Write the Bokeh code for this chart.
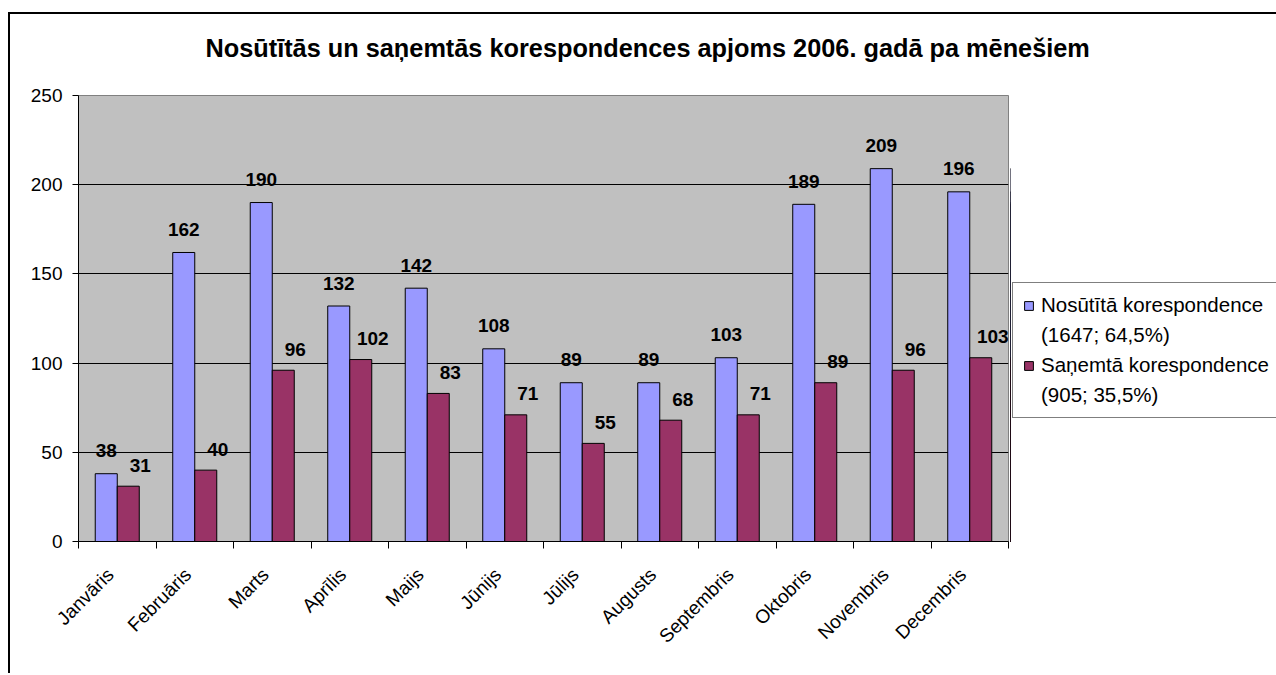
import numpy as np
from bokeh.plotting import figure
from bokeh.layouts import row, column
from bokeh.models import (ColumnDataSource, FixedTicker, LabelSet, Legend, LegendItem, Range1d)
from bokeh.transform import dodge
from bokeh.core.properties import value
from bokeh.embed import file_html
from bokeh.resources import INLINE

months = ["Janvāris", "Februāris", "Marts", "Aprīlis", "Maijs", "Jūnijs", "Jūlijs",
          "Augusts", "Septembris", "Oktobris", "Novembris", "Decembris"]
sent = [38, 162, 190, 132, 142, 108, 89, 89, 103, 189, 209, 196]
received = [31, 40, 96, 102, 83, 71, 55, 68, 71, 89, 96, 103]
sent_label = ["Nosūtītā korespondence", "(1647; 64,5%)"]
received_label = ["Saņemtā korespondence", "(905; 35,5%)"]
title_text = "Nosūtītās un saņemtās korespondences apjoms 2006. gadā pa mēnešiem"
y_ticks = [0, 50, 100, 150, 200, 250]
sent_color = "#9999FF"
received_color = "#993366"

FONT = "Liberation Sans"
n = len(months)
x_pos = [i + 0.5 for i in range(n)]
label_pos = [x - 0.09 for x in x_pos]
boundaries = list(range(n + 1))

src = ColumnDataSource(dict(
    x=x_pos, sent=sent, received=received,
    sent_txt=[str(v) for v in sent], rec_txt=[str(v) for v in received],
))

# ---------------- title strip ----------------
pt = figure(width=1266, height=71, x_range=Range1d(0, 1), y_range=Range1d(0, 1),
            output_backend="svg", toolbar_location=None,
            x_axis_location=None, y_axis_location=None,
            min_border_left=68, min_border_right=268, min_border_top=0, min_border_bottom=0)
pt.grid.visible = False
pt.outline_line_color = None
pt.background_fill_color = "white"
pt.border_fill_color = "white"
pt.title.text = title_text
pt.title.align = "left"
pt.title.offset = 127
pt.title.standoff = 34
pt.title.text_font = FONT
pt.title.text_font_size = "25.3px"
pt.title.text_font_style = "bold"
pt.title.text_color = "black"

# ---------------- main chart ----------------
p = figure(width=1000, height=588, x_range=Range1d(0, n), y_range=Range1d(0, 250),
           output_backend="svg", toolbar_location=None,
           min_border_left=68, min_border_right=2, min_border_top=10, min_border_bottom=132)
p.title.text = ""
p.title.standoff = 0
p.background_fill_color = "#C0C0C0"
p.border_fill_color = "white"
p.outline_line_color = "#808080"
p.outline_line_width = 1

p.xgrid.visible = False
p.ygrid.ticker = FixedTicker(ticks=[50, 100, 150, 200])
p.ygrid.grid_line_color = "black"
p.ygrid.grid_line_width = 1

p.yaxis.ticker = FixedTicker(ticks=y_ticks)
p.yaxis.major_tick_out = 6
p.yaxis.major_tick_in = 0
p.yaxis.minor_tick_line_color = None
p.yaxis.axis_line_color = "black"
p.yaxis.major_tick_line_color = "black"
p.yaxis.major_label_standoff = 10
p.yaxis.major_label_text_font = FONT
p.yaxis.major_label_text_font_size = "19px"
p.yaxis.major_label_text_color = "black"

p.xaxis.ticker = FixedTicker(ticks=label_pos, minor_ticks=boundaries)
p.xaxis.major_label_overrides = {x: m for x, m in zip(label_pos, months)}
p.xaxis.major_tick_out = 0
p.xaxis.major_tick_in = 0
p.xaxis.minor_tick_out = 7
p.xaxis.minor_tick_in = 0
p.xaxis.minor_tick_line_color = "black"
p.xaxis.axis_line_color = "black"
p.xaxis.major_label_orientation = np.pi / 4
p.xaxis.major_label_standoff = 23
p.xaxis.major_label_text_font = FONT
p.xaxis.major_label_text_font_size = "19px"
p.xaxis.major_label_text_color = "black"

p.vbar(x=dodge("x", -0.142, range=p.x_range), top="sent", width=0.284, source=src,
       fill_color=sent_color, line_color="black", line_width=1)
p.vbar(x=dodge("x", 0.142, range=p.x_range), top="received", width=0.284, source=src,
       fill_color=received_color, line_color="black", line_width=1)

lab1 = LabelSet(x=dodge("x", -0.142, range=p.x_range), y="sent", text="sent_txt", source=src,
                text_align="center", text_baseline="middle", y_offset=23,
                text_font=value(FONT), text_font_style="bold", text_font_size="19px",
                text_color="black")
lab2 = LabelSet(x=dodge("x", 0.142, range=p.x_range), y="received", text="rec_txt", source=src,
                text_align="center", text_baseline="middle", y_offset=21, x_offset=12,
                text_font=value(FONT), text_font_style="bold", text_font_size="19px",
                text_color="black")
p.add_layout(lab1)
p.add_layout(lab2)

# ---------------- legend panel ----------------
p2 = figure(width=266, height=588, x_range=Range1d(n + 5, n + 6), y_range=Range1d(0, 250),
            output_backend="svg", toolbar_location=None,
            x_axis_location=None, y_axis_location=None, min_border=0)
p2.title.text = ""
p2.title.standoff = 0
p2.grid.visible = False
p2.outline_line_color = None
p2.background_fill_color = "white"
p2.border_fill_color = "white"
# same series drawn outside this panel's view: only their legend swatches show
g1 = p2.vbar(x="x", top="sent", width=0.284, source=src, fill_color=sent_color, line_color="black")
g2 = p2.vbar(x="x", top="received", width=0.284, source=src, fill_color=received_color,
             line_color="black")
blank = p2.scatter(x="x", y="sent", source=src, fill_alpha=0, line_alpha=0)

legend = Legend(items=[LegendItem(label=sent_label[0], renderers=[g1]),
                       LegendItem(label=sent_label[1], renderers=[blank]),
                       LegendItem(label=received_label[0], renderers=[g2]),
                       LegendItem(label=received_label[1], renderers=[blank])],
                location=(2, 123), border_line_color="black", border_line_width=1,
                background_fill_color="white", background_fill_alpha=1,
                label_text_font=FONT, label_text_font_size="20.5px", label_text_color="black",
                glyph_width=11, glyph_height=11, padding=10, spacing=6, label_height=22,
                label_standoff=7, margin=0)
p2.add_layout(legend)

layout = column(pt, row(p, p2, spacing=0), spacing=0)
layout.margin = (12, 0, 0, 8)
layout.styles = {"border-left": "2px solid black", "border-top": "2px solid black"}

open("out.html", "w").write(file_html(layout, INLINE))
